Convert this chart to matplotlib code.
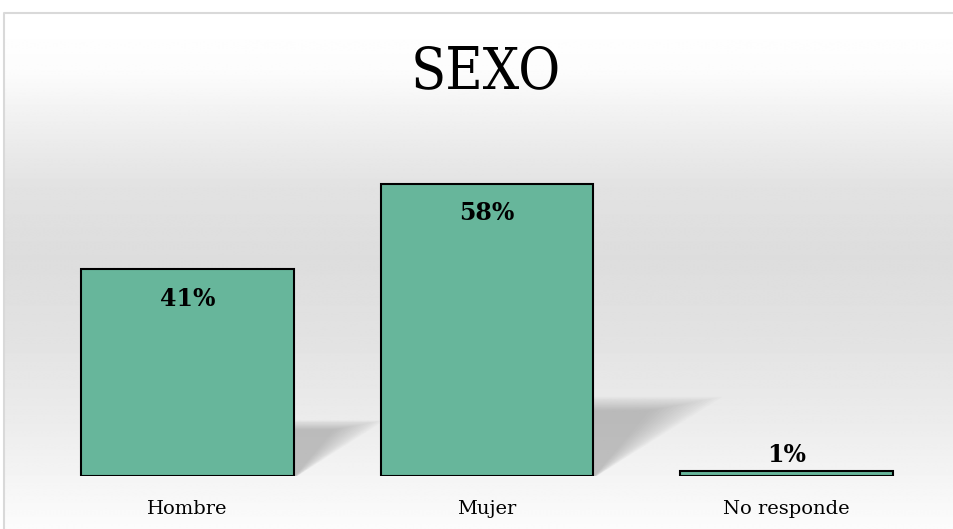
import numpy as np
import matplotlib
matplotlib.use('Agg')
import matplotlib.pyplot as plt
from matplotlib.patches import Polygon

categories = ['Hombre', 'Mujer', 'No responde']
values = [41, 58, 1]
labels = ['41%', '58%', '1%']
title = 'SEXO'

bar_color = '#67b69b'

fig = plt.figure(figsize=(9.54, 5.29), dpi=100)

# background gradient (white -> gray -> white), chart frame starts at (4, 12) px
bg = fig.add_axes([0, 0, 1, 1], zorder=-10)
ys = np.arange(529)
stops_y = [12, 60, 120, 180, 250, 330, 420, 480, 529]
stops_v = [255, 252, 238, 226, 221, 226, 236, 245, 252]
col = np.interp(ys, stops_y, stops_v) / 255.
img = np.repeat(col[:, None], 2, axis=1)
bg.imshow(img, cmap='gray', vmin=0, vmax=1, extent=[4, 970, 529, 12],
          aspect='auto', interpolation='bilinear')
bg.plot([4.5, 4.5, 970], [529, 12.5, 12.5], color='#d9d9d9', lw=1.5)
bg.set_xlim(0, 954)
bg.set_ylim(529, 0)
bg.axis('off')

ax = fig.add_axes([37.75 / 954, 53 / 529, 898.25 / 954, 353 / 529])
ax.patch.set_alpha(0)
x = np.arange(len(categories))
width = 0.71
bars = ax.bar(x, values, width=width, color=bar_color, edgecolor='black',
              linewidth=1.5, zorder=3)

# soft perspective shadows behind the bars (layered to fake a blur)
for xi, v in zip(x, values):
    if v < 5:
        continue
    xr = xi + width / 2
    h = 0.26 * v
    w = 0.0062 * v
    n = 16
    for k in range(n):
        s = 1.2 - k * 0.045
        hk = h * (1.04 - 0.012 * k)
        tri = [(xr - 0.05, 0), (xr - 0.05, hk), (xr + w * s, hk),
               (xr + 0.01 * s, 0)]
        ax.add_patch(Polygon(tri, closed=True, facecolor='#808080',
                             edgecolor='none', alpha=0.032, zorder=1))

for xi, v, lab in zip(x, values, labels):
    off = -21.5 if v > 5 else 11.5
    ax.annotate(lab, (xi, v), xytext=(0, off), textcoords='offset points',
                ha='center', va='center', fontsize=17, fontweight='bold',
                family='DejaVu Serif', zorder=5)

ax.set_xlim(-0.5, 2.5)
ax.set_ylim(0, 70)
ax.set_xticks(x)
ax.set_xticklabels(categories, family='DejaVu Serif', fontsize=14)
ax.tick_params(axis='x', length=0, pad=17)
ax.set_yticks([])
for sp in ax.spines.values():
    sp.set_visible(False)

fig.text(486 / 954, 1 - 72 / 529, title, ha='center', va='center',
         fontsize=41, family='DejaVu Serif', fontstretch='condensed')

fig.savefig('out.png', dpi=100)
